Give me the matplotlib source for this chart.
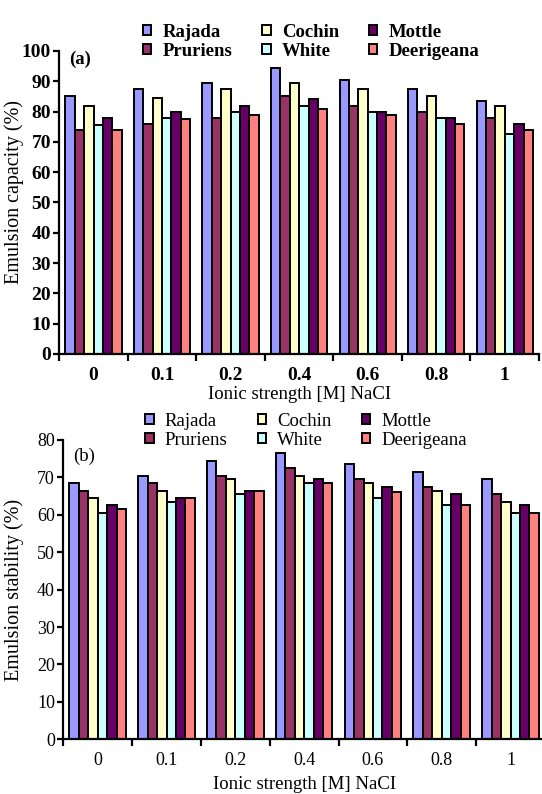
import numpy as np
import matplotlib
matplotlib.use("Agg")
import matplotlib.pyplot as plt

plt.rcParams['font.family'] = ['Liberation Serif', 'DejaVu Serif']

# Data
ionic_strength = ['0', '0.1', '0.2', '0.4', '0.6', '0.8', '1']
varieties = ['Rajada', 'Pruriens', 'Cochin', 'White', 'Mottle', 'Deerigeana']
colors = ['#9999FF', '#993366', '#FFFFCC', '#CCFFFF', '#660066', '#FF8080']

# Emulsion capacity (%), one list per variety
cap_rajada = [85, 87.5, 89.5, 94.5, 90.5, 87.5, 83.5]
cap_pruriens = [74, 76, 78, 85, 82, 80, 78]
cap_cochin = [82, 84.5, 87.5, 89.5, 87.5, 85, 82]
cap_white = [75.5, 78, 80, 82, 80, 78, 72.5]
cap_mottle = [78, 80, 82, 84, 80, 78, 76]
cap_deerigeana = [74, 77.5, 79, 81, 79, 76, 74]

# Emulsion stability (%)
stab_rajada = [68.5, 70.5, 74.5, 76.5, 73.5, 71.5, 69.5]
stab_pruriens = [66.5, 68.5, 70.5, 72.5, 69.5, 67.5, 65.5]
stab_cochin = [64.5, 66.5, 69.5, 70.5, 68.5, 66.5, 63.5]
stab_white = [60.5, 63.5, 65.5, 68.5, 64.5, 62.5, 60.5]
stab_mottle = [62.5, 64.5, 66.5, 69.5, 67.5, 65.5, 62.5]
stab_deerigeana = [61.5, 64.5, 66.5, 68.5, 66, 62.5, 60.5]

capacity = [cap_rajada, cap_pruriens, cap_cochin, cap_white, cap_mottle, cap_deerigeana]
stability = [stab_rajada, stab_pruriens, stab_cochin, stab_white, stab_mottle, stab_deerigeana]


def draw_panel(ax, series, ymax, ylabel, tag, weight, fs, legend_pos, ylab_xy, tag_y, xlab_pad):
    n = len(ionic_strength)
    bw = 0.137
    x = np.arange(n) + 0.5
    for k, (vals, col) in enumerate(zip(series, colors)):
        ax.bar(x + (k - 2.5) * bw, vals, width=bw, color=col, edgecolor='black',
               linewidth=1.4, label=varieties[k])

    ax.set_xlim(0, n)
    ax.set_ylim(0, ymax)
    ax.set_yticks(np.arange(0, ymax + 1, 10))
    ax.set_xticks(np.arange(0, n + 1))
    ax.set_xticklabels([])
    ax.set_xticks(x, minor=True)
    ax.set_xticklabels(ionic_strength, minor=True, fontsize=fs, fontweight=weight)
    ax.tick_params(axis='x', which='minor', length=0, pad=9)
    ax.tick_params(axis='x', which='major', length=5, width=1.6, direction='out')
    ax.tick_params(axis='y', length=4, width=1.6, direction='out', pad=2)
    for lab in ax.get_yticklabels():
        lab.set_fontsize(fs)
        lab.set_fontweight(weight)

    for s in ['top', 'right']:
        ax.spines[s].set_visible(False)
    for s in ['left', 'bottom']:
        ax.spines[s].set_linewidth(1.6)

    # ylabel anchor is the right edge of the rotated text
    ax.set_ylabel(ylabel, fontsize=14.5)
    ax.yaxis.set_label_coords(*ylab_xy)
    ax.set_xlabel('Ionic strength [M] NaCI', fontsize=13.5, labelpad=xlab_pad)
    ax.text(0.02, tag_y, tag, transform=ax.transAxes, fontsize=13.5,
            fontweight=weight, va='top', ha='left')

    ax.legend(loc='center', bbox_to_anchor=legend_pos, bbox_transform=ax.figure.transFigure,
              ncol=3, frameon=False, handlelength=0.45, handleheight=0.45,
              handletextpad=0.6, columnspacing=1.6, labelspacing=0.12, borderpad=0,
              prop={'size': 13.5, 'weight': weight})


fig = plt.figure(figsize=(5.42, 7.94), dpi=100)
ax_a = fig.add_axes([59.3 / 542, 1 - 354 / 794, (539 - 59.3) / 542, 303 / 794])
ax_b = fig.add_axes([63.3 / 542, 1 - 739.3 / 794, (545 - 63.3) / 542, 299.3 / 794])

draw_panel(ax_a, capacity, 100, 'Emulsion capacity (%)', '(a)', 'bold', 14,
           (311 / 542, 1 - 42 / 794), (-0.074, 0.535), 1.0, 2)
draw_panel(ax_b, stability, 80, 'Emulsion stability (%)', '(b)', 'normal', 13,
           (306 / 542, 1 - 431 / 794), (-0.082, 0.5), 0.975, 5)

fig.savefig('out.png', dpi=100)
